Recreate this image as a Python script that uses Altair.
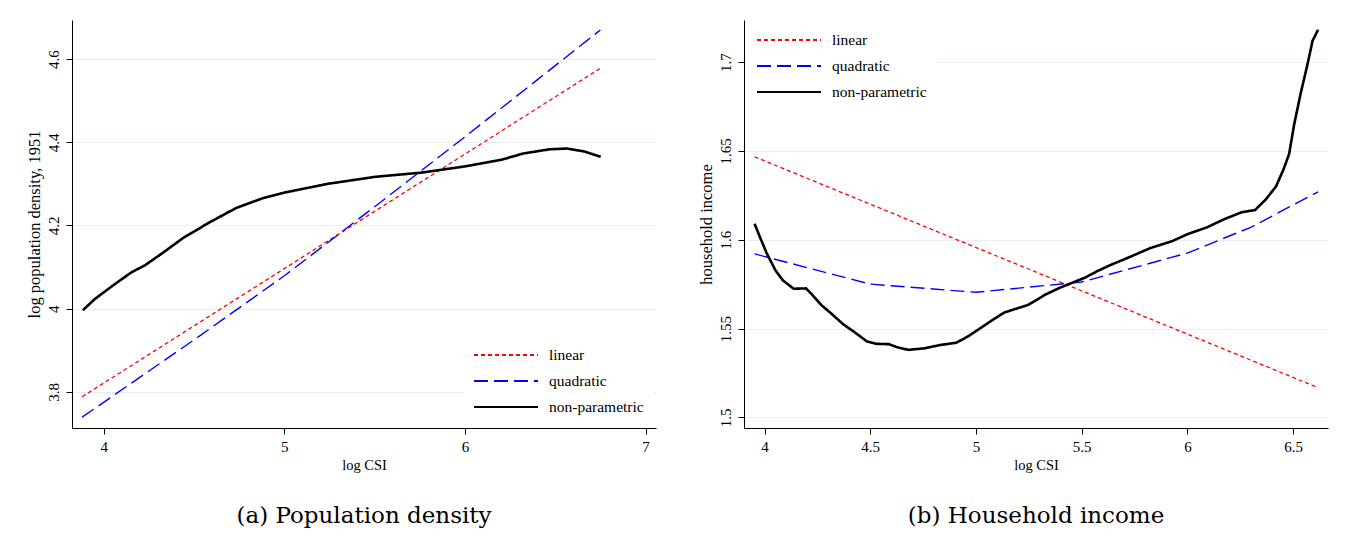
import pandas as pd
import altair as alt

# Panel (a): log population density, 1951 vs log CSI
a_lin_x = [3.88, 6.75]
a_lin_y = [3.788, 4.578]
a_quad_x = [3.88, 4.5, 5.0, 5.5, 6.0, 6.4, 6.75]
a_quad_y = [3.739, 3.925, 4.079, 4.245, 4.413, 4.55, 4.67]
a_np_x = [3.884, 3.95, 4.058, 4.154, 4.227, 4.323, 4.443, 4.588, 4.733, 4.877,
          5.0, 5.239, 5.504, 5.759, 6.0, 6.202, 6.323, 6.467, 6.564, 6.66, 6.752]
a_np_y = [3.996, 4.023, 4.058, 4.0875, 4.104, 4.133, 4.171, 4.208, 4.242, 4.265,
          4.279, 4.3, 4.317, 4.327, 4.342, 4.358, 4.373, 4.383, 4.385, 4.378, 4.365]

# Panel (b): household income vs log CSI
b_lin_x = [3.953, 6.618]
b_lin_y = [1.6467, 1.5167]
b_quad_x = [3.953, 4.5, 5.0, 5.5, 6.0, 6.3, 6.618]
b_quad_y = [1.592, 1.575, 1.5704, 1.5762, 1.5925, 1.607, 1.627]
b_np_x = [3.953, 3.979, 4.01, 4.052, 4.087, 4.138, 4.196, 4.216, 4.268, 4.32,
          4.371, 4.423, 4.485, 4.526, 4.588, 4.629, 4.68, 4.753, 4.835, 4.907,
          4.959, 5.021, 5.082, 5.134, 5.186, 5.247, 5.33, 5.392, 5.454, 5.515,
          5.577, 5.639, 5.722, 5.825, 5.928, 6.0, 6.093, 6.175, 6.258, 6.32,
          6.371, 6.419, 6.454, 6.481, 6.505, 6.536, 6.567, 6.592, 6.618]
b_np_y = [1.609, 1.6013, 1.5925, 1.5827, 1.5771, 1.5724, 1.5726, 1.5702, 1.5633, 1.558,
          1.5525, 1.5482, 1.5427, 1.5414, 1.5412, 1.5394, 1.538, 1.5388, 1.5408, 1.542,
          1.5453, 1.5502, 1.5551, 1.559, 1.561, 1.5633, 1.5692, 1.5727, 1.5757, 1.5786,
          1.5825, 1.5859, 1.59, 1.5953, 1.5992, 1.6031, 1.607, 1.6116, 1.6155, 1.6167,
          1.6227, 1.63, 1.6394, 1.6482, 1.6649, 1.6825, 1.6982, 1.712, 1.7182]

fits = ["linear", "quadratic", "non-parametric"]
widths = [1.3, 1.4, 2.6]
FONT = "Liberation Serif"
CAPTION_FONT = "DejaVu Serif"


def long_df(series):
    rows = []
    for name, xs, ys in series:
        for i, (x, y) in enumerate(zip(xs, ys)):
            rows.append({"fit": name, "x": x, "y": y, "i": i})
    return pd.DataFrame(rows)


df_a = long_df([("linear", a_lin_x, a_lin_y), ("quadratic", a_quad_x, a_quad_y),
                ("non-parametric", a_np_x, a_np_y)])
df_b = long_df([("linear", b_lin_x, b_lin_y), ("quadratic", b_quad_x, b_quad_y),
                ("non-parametric", b_np_x, b_np_y)])


def panel(df, xdom, xticks, ydom, yticks, ytitle, legend_orient, caption):
    legend = alt.Legend(title=None, orient=legend_orient, offset=2, padding=10,
                        fillColor="white", symbolType="stroke", symbolSize=4096,
                        symbolStrokeWidth=1.8, clipHeight=16, rowPadding=9,
                        labelFont=FONT, labelFontSize=15.5, labelColor="black",
                        labelOffset=10)
    base = alt.Chart(df).encode(
        x=alt.X("x:Q", title="log CSI",
                scale=alt.Scale(domain=xdom, nice=False, zero=False),
                axis=alt.Axis(values=xticks, grid=False, format="~g", titleFontSize=14.5)),
        y=alt.Y("y:Q", title=ytitle,
                scale=alt.Scale(domain=ydom, nice=False, zero=False),
                axis=alt.Axis(values=yticks, format="~g", labelAngle=270,
                              labelAlign="center", labelBaseline="bottom",
                              titleFontSize=16.5)),
        color=alt.Color("fit:N", legend=legend, sort=fits,
                        scale=alt.Scale(domain=fits, range=["#ff0000", "#0000ff", "black"])),
        strokeDash=alt.StrokeDash("fit:N", legend=legend, sort=fits,
                                  scale=alt.Scale(domain=fits, range=[[4, 3], [14, 6], [1, 0]])),
        order="i:Q",
    )
    layers = [
        base.transform_filter(alt.datum.fit == f).mark_line(clip=True, strokeWidth=w)
        for f, w in zip(fits, widths)
    ]
    return alt.layer(*layers).properties(
        width=584, height=408,
        title=alt.TitleParams(caption, orient="bottom", font=CAPTION_FONT, fontSize=23,
                              fontWeight="normal", color="black", offset=33),
    )


left = panel(df_a, [3.824, 7.058], [4, 5, 6, 7], [3.713, 4.694], [3.8, 4.0, 4.2, 4.4, 4.6],
             "log population density, 1951", "bottom-right", "(a) Population density")
right = panel(df_b, [3.903, 6.665], [4, 4.5, 5, 5.5, 6, 6.5], [1.494, 1.7237],
              [1.5, 1.55, 1.6, 1.65, 1.7], "household income", "top-left", "(b) Household income")

chart = alt.hconcat(left, right, spacing=42).properties(
    padding={"left": 17, "top": 12, "right": 5, "bottom": 5},
).configure_axis(
    labelFont=FONT, titleFont=FONT, labelFontSize=15,
    labelColor="black", titleColor="black", titleFontWeight="normal",
    domainColor="black", tickColor="black", tickSize=6,
    gridColor="#e6eef2", labelPadding=5, titlePadding=4,
).configure_view(stroke=None)

chart.save("out.html", embed_options={"renderer": "svg", "actions": False})
